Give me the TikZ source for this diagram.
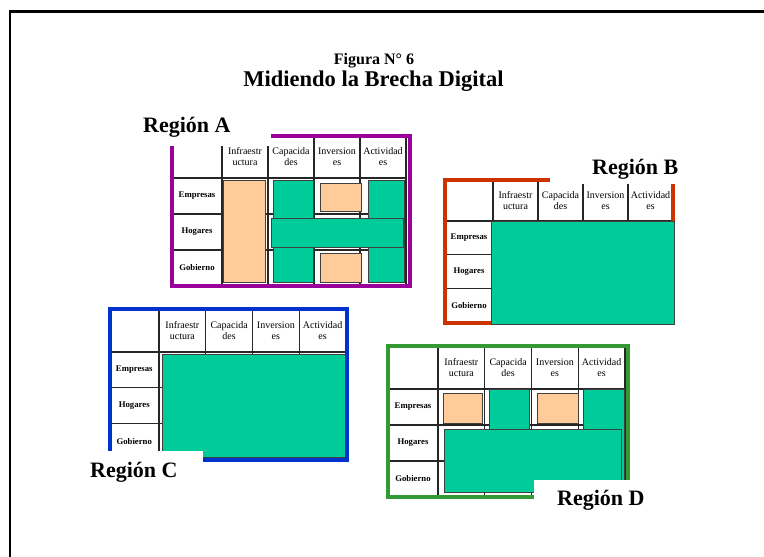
\documentclass[tikz,border=0pt]{standalone}
\usepackage{fontspec}
\setmainfont{Liberation Serif}
\definecolor{framepurple}{RGB}{153,0,153}
\definecolor{framered}{RGB}{204,51,0}
\definecolor{frameblue}{RGB}{0,51,204}
\definecolor{framegreen}{RGB}{51,153,51}
\definecolor{tealfill}{RGB}{0,204,153}
\definecolor{peachfill}{RGB}{255,204,153}

\newcommand\rtable[7]{% #1 prefix, #2 x0, #3 x1, #4 x5, #5 ytop, #6 yhead, #7 yend
  \pgfmathsetmacro\cw{(#4-#3)/4}
  \pgfmathsetmacro\rh{(#7-#6)/3}
  \foreach \i in {0,...,4} {\draw[gridline] ({#3+\i*\cw},#5) -- ({#3+\i*\cw},#7);}
  \draw[gridline] (#2,#5) -- (#2,#7);
  \draw[gridline] (#2,#5) -- (#4,#5);
  \foreach \j in {0,...,3} {\draw[gridline] (#2,{#6+\j*\rh}) -- (#4,{#6+\j*\rh});}
  \foreach \t [count=\i] in {{Infraestr\\uctura},{Capacida\\des},{Inversion\\es},{Actividad\\es}}
    {\node[hdr] (#1h\i) at ({#3+(\i-0.5)*\cw},{(#5+#6)/2}) {\t};}
  \foreach \t [count=\j] in {Empresas,Hogares,Gobierno}
    {\node[rowlbl] (#1r\j) at ({(#2+#3)/2},{#6+(\j-0.5)*\rh}) {\t};}
}

\begin{document}
\begin{tikzpicture}[x=1pt,y=-1pt,
  gridline/.style={draw=black!85,line width=1.2pt},
  hdr/.style={font=\fontsize{10}{11}\selectfont,align=center,inner sep=0pt},
  rowlbl/.style={font=\fontsize{8.7}{10}\selectfont\bfseries,inner sep=0pt},
  greenbox/.style={fill=tealfill,draw=black!75,line width=0.9pt},
  peachbox/.style={fill=peachfill,draw=black!75,line width=0.9pt},
  rframe/.style={line width=4pt,line join=miter},
  reglbl/.style={font=\fontsize{22}{26}\selectfont\bfseries,inner sep=0pt,anchor=base west},
  cover/.style={fill=white,draw=none}]
\useasboundingbox (0,0) rectangle (764,557);
\fill[white] (0,0) rectangle (764,557);

% page frame
\draw[line width=2.5pt] (10,560) -- (10,11.5) -- (766,11.5);

% title
\node[font=\fontsize{16}{19}\selectfont\bfseries,anchor=base,inner sep=0pt] (fig) at (374,64) {Figura N° 6};
\node[font=\fontsize{22.5}{27}\selectfont\bfseries,anchor=base,inner sep=0pt] (title) at (373.5,86) {Midiendo la Brecha Digital};

% ---------- Region A ----------
\rtable{A}{172}{222}{406}{135.5}{178}{286}
\draw[rframe,framepurple] (172,135.5) rectangle (410,286);
\draw[peachbox] (223,180) rectangle (265,282);
\draw[greenbox] (273,180) rectangle (313,282);
\draw[greenbox] (368,180) rectangle (404,282);
\draw[greenbox] (271,218) rectangle (403,247);
\draw[peachbox] (320,183) rectangle (361,211);
\draw[peachbox] (320,253) rectangle (361,282);

% ---------- Region B ----------
\rtable{B}{445}{493}{673}{179.5}{221}{322.5}
\draw[rframe,framered] (445,179.5) rectangle (672.5,322.5);
\draw[greenbox] (491,221) rectangle (674,324);

% ---------- Region C ----------
\rtable{C}{109.5}{159}{346}{309}{352}{459}
\draw[greenbox] (162,354) rectangle (345.5,457);
\draw[rframe,frameblue] (109.5,309) rectangle (347,459.5);

% ---------- Region D ----------
\rtable{D}{388}{438}{625}{346}{389}{497}
\draw[rframe,framegreen] (388,346) rectangle (628,497);
\draw[peachbox] (443,393) rectangle (482,423);
\draw[greenbox] (489,389) rectangle (529,440);
\draw[peachbox] (537,393) rectangle (578,423);
\draw[greenbox] (583,389) rectangle (624,492);
\draw[greenbox] (444,429) rectangle (621,492);

% label covers
\fill[cover] (125,100) rectangle (271,146);
\fill[cover] (550,150) rectangle (700,183.5);
\fill[cover] (85,451) rectangle (203,500);
\fill[cover] (534,480) rectangle (690,530);

% region labels
\node[reglbl] (labA) at (143,132) {Región A};
\node[reglbl] (labB) at (592,174) {Región B};
\node[reglbl] (labC) at (90,477) {Región C};
\node[reglbl] (labD) at (557,505) {Región D};
\end{tikzpicture}
\end{document}
